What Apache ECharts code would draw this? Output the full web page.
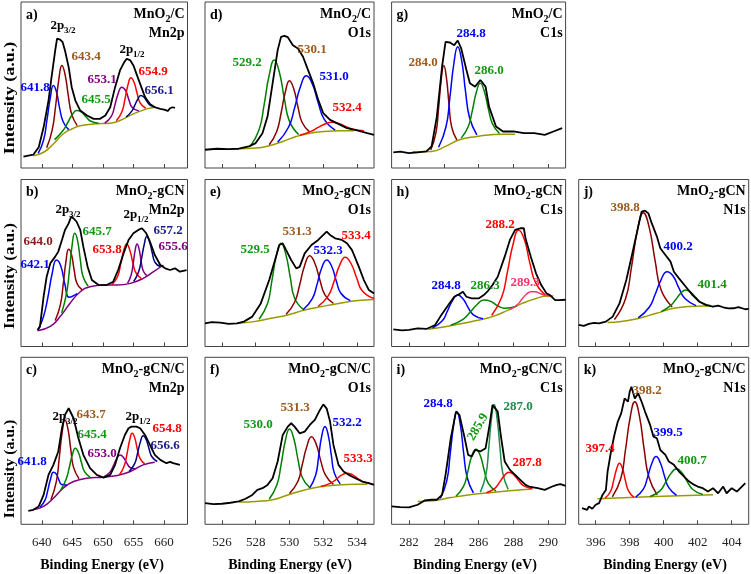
<!DOCTYPE html>
<html><head><meta charset="utf-8">
<script src="https://cdn.jsdelivr.net/npm/echarts@6/dist/echarts.min.js"></script>
<style>html,body{margin:0;padding:0;background:#fff}#c{width:751px;height:574px}</style>
</head><body><div id="c"></div>
<script>
// ================= DATA (x = binding energy eV, y = intensity a.u. 0-100) =================
// tick labels
const ticksMn = [640, 645, 650, 655, 660];
const ticksO = [526, 528, 530, 532, 534];
const ticksC = [282, 284, 286, 288, 290];
const ticksN = [396, 398, 400, 402, 404];

// ---- a) MnO2/C Mn2p
const a_env = [[637.0,6.8],[638.6,8],[639.5,12.5],[640.3,24.5],[641.1,40.6],[641.6,54.7],[642.2,70.8],[642.5,77.9],[643.0,77.3],[643.4,75.9],[643.8,70.8],[644.4,60.8],[644.9,48.7],[645.5,40.6],[646.3,34.6],[647.4,31.6],[648.5,29.6],[649.5,29.6],[650.4,31.6],[651.2,36.6],[652.0,48.7],[652.8,58.8],[653.5,63.8],[653.9,65.8],[654.5,64.8],[655.0,61.8],[655.5,56.7],[656.1,50.7],[656.9,42.7],[657.7,38.6],[658.5,36.6],[659.4,35.6],[660.2,35],[660.6,34.3],[661.0,36],[661.4,36.6],[661.8,36.2]];
const a_base = [[638.6,7.4],[640.3,9.5],[641.9,14.5],[643.5,20.5],[644.9,23.5],[646.5,25.6],[649,26.6],[651.2,27],[652.8,28.6],[655,32.6],[657.2,35.6],[658.5,36.6]];
const a_641_8 = [[639.4,8.8],[640.3,16.9],[640.85,29],[641.4,42.4],[641.9,49.7],[642.4,45.9],[642.95,35.5],[643.5,27.9],[644.4,23.1]];
const a_643_4 = [[640.8,12.2],[641.7,22.8],[642.25,36.9],[642.8,53.6],[643.3,61.8],[643.8,56.6],[644.35,43.4],[644.9,32.3],[645.8,25.5]];
const a_645_5 = [[642.1,17.1],[643.45,22.4],[644.2,27],[644.95,31.9],[645.7,34.6],[646.45,33.8],[647.2,31],[647.95,28.3],[649.3,26.9]];
const a_653_1 = [[650.3,27],[651.4,31.3],[651.95,37.7],[652.5,44.8],[653.1,48.7],[653.7,46.7],[654.25,41.2],[654.8,36.4],[655.9,34.4]];
const a_654_9 = [[652.2,28.4],[653.1,33.7],[653.6,41.2],[654.1,49.9],[654.6,54.3],[655.1,51.7],[655.6,45],[656.1,39.2],[657.0,36]];
const a_656_1 = [[653.8,30.7],[654.7,34.1],[655.2,37.6],[655.7,41.4],[656.2,43.7],[656.7,42.8],[657.2,40.2],[657.7,37.9],[658.6,36.8]];

// ---- d) MnO2/C O1s
const d_env = [[525,11],[525.7,11.6],[526.4,11.4],[527,11.6],[527.6,13],[528,15],[528.4,21],[528.7,31],[529,51],[529.3,71],[529.5,79],[529.7,79.6],[529.9,78.8],[530.2,74],[530.5,72],[530.8,67],[531.1,59],[531.4,51],[531.7,41],[532.0,33],[532.4,29],[532.8,27],[533.4,24],[534.0,22.6],[534.6,21],[535,20]];
const d_base = [[527,11.6],[528,12],[528.8,13.4],[529.6,16],[530.4,19],[531.2,21],[532.0,22],[533,22.4],[533.8,22.4]];
const d_529_2 = [[527.66,12.9],[528.2,23.1],[528.5,38.2],[528.8,56],[529.1,65],[529.4,57.7],[529.7,41.6],[530.0,28.1],[530.54,20.2]];
const d_530_1 = [[528.8,14],[529.25,22.2],[529.5,33],[529.75,45.6],[530.0,52.5],[530.25,47.7],[530.5,36.8],[530.75,27.4],[531.2,21.6]];
const d_531_0 = [[529.3,15.6],[529.95,24.7],[530.3,36.1],[530.65,49.1],[531.0,55.5],[531.35,50.6],[531.7,39.3],[532.05,29.4],[532.7,22.8]];
const d_532_4 = [[530.6,19.7],[531.3,22.2],[531.7,24.5],[532.1,26.5],[532.5,27.5],[532.9,26.9],[533.3,25.1],[533.7,23.5],[534.4,22.4]];

// ---- g) MnO2/C C1s
const g_env = [[281.1,9.4],[281.5,9.9],[282,9],[282.5,9.4],[283,10],[283.3,13],[283.6,31],[283.9,61],[284.1,76],[284.35,75.6],[284.6,74],[284.8,76.8],[285.0,72],[285.3,59],[285.5,51],[285.8,49],[286.1,53],[286.4,49],[286.6,37],[287.0,25],[287.4,22],[288,22],[288.6,21],[289.2,21],[289.8,20],[290.3,22],[290.8,24]];
const g_base = [[282.2,9.8],[283.3,10],[284.1,13],[284.9,17],[285.9,19],[286.7,20],[287.4,20.4],[288.1,20.4]];
const g_284_0 = [[283.25,10.9],[283.55,21.3],[283.7,36],[283.85,53.2],[284.0,61.7],[284.15,54.4],[284.3,38.3],[284.45,24.8],[284.75,16.9]];
const g_284_8 = [[283.7,12.5],[284.13,25],[284.35,42.5],[284.58,63],[284.8,73],[285.03,64.5],[285.25,46],[285.48,30.3],[285.9,20]];
const g_286_0 = [[285.0,18],[285.4,24.8],[285.64,34.6],[285.87,45.6],[286.1,51],[286.33,46.1],[286.56,35.6],[286.8,26.6],[287.2,20.8]];

// ---- b) MnO2-gCN Mn2p
const b_env = [[639.3,9.9],[639.7,11.9],[640.3,29.8],[640.8,41.8],[641.4,49.8],[642.2,53.8],[642.7,56.8],[643.3,63.8],[643.8,69.8],[644.4,73.7],[644.8,77.7],[645.2,76.7],[645.7,74.7],[646.3,69.8],[646.8,59.8],[647.5,47.8],[648.2,39.8],[649.3,36.8],[650.6,36.8],[651.7,38.8],[652.5,45.8],[653.4,55.8],[654.2,63.8],[655.0,67.8],[655.8,69.8],[656.4,70.8],[657.1,67.8],[657.7,62.8],[658.5,54.8],[659.4,48.8],[660.2,46.8],[661.0,45.8],[661.8,46.8],[662.6,44.8],[663.7,45.8]];
const b_base = [[639.3,9.5],[641.4,12],[643,17.9],[644.6,25.8],[646.3,32.8],[647.9,35.8],[650.1,36.8],[652.3,36.8],[654.5,37.8],[656.6,40.8],[658.3,44.8],[659.9,48.8]];
const b_642_1 = [[639.4,10],[640.3,18.1],[641.0,29.5],[641.7,43.7],[642.4,51.8],[643.1,48.4],[643.8,37],[644.5,29.5],[645.8,31.6]];
const b_644_0 = [[642.2,15.6],[643.05,25.1],[643.5,37],[643.95,50.7],[644.4,58.2],[644.85,55.2],[645.3,45.8],[645.75,37.9],[646.6,33.9]];
const b_645_7 = [[643.25,20.1],[644.05,31.6],[644.5,44.8],[644.95,60.1],[645.4,67.8],[645.85,63.6],[646.3,52.1],[646.75,41.9],[647.6,36.1]];
const b_653_8 = [[651.5,37.1],[652.4,41.8],[652.9,49],[653.4,57.3],[653.9,61.4],[654.4,57.8],[654.9,50.3],[655.4,44.2],[656.3,40.7]];
const b_655_6 = [[654.05,37.9],[654.6,42.5],[654.95,49.3],[655.28,57.5],[655.6,61.4],[655.93,58.3],[656.25,51.3],[656.6,45.4],[657.2,42.4]];
const b_657_2 = [[655.05,38.9],[655.85,44.8],[656.3,52],[656.75,60.8],[657.2,65.8],[657.65,62.6],[658.1,55.8],[658.55,50.3],[659.4,47.9]];

// ---- e) MnO2-gCN O1s
const e_env = [[525,13.9],[525.4,14.6],[525.9,14.3],[526.4,13.6],[526.9,13.9],[527.3,14.9],[527.8,17.9],[528.3,25.8],[528.8,39.8],[529.2,53.8],[529.4,60.8],[529.6,61.8],[529.8,57.7],[530.1,51.8],[530.4,46.8],[530.6,47.7],[530.9,55.8],[531.3,60.8],[531.7,63.8],[532.0,66.8],[532.2,68.8],[532.4,66.8],[532.7,64.8],[533.1,63.8],[533.4,61.8],[533.7,57.7],[534.1,47.8],[534.4,39.8],[534.7,33.8],[535,31.8]];
const e_base = [[526.9,13.9],[527.9,14.9],[528.9,16.9],[529.9,18.9],[530.9,21.8],[531.9,23.9],[532.9,25.8],[533.9,27.4],[535,28.2]];
const e_529_5 = [[528.2,16.3],[528.7,25.7],[528.95,38.9],[529.22,54.3],[529.5,61.8],[529.78,55.3],[530.05,41.1],[530.3,29],[530.8,22.3]];
const e_531_3 = [[529.8,19.3],[530.3,26.5],[530.6,36.8],[530.9,48.7],[531.2,54.4],[531.5,49.9],[531.8,39.7],[532.1,30.9],[532.6,25.8]];
const e_532_3 = [[530.8,22],[531.35,28.7],[531.63,37.2],[531.9,46.9],[532.2,51.8],[532.5,47.9],[532.77,39.2],[533.05,31.7],[533.6,27.5]];
const e_533_4 = [[531.7,24.1],[532.3,30.5],[532.63,38.8],[532.97,48.7],[533.3,53.4],[533.64,49.7],[533.98,40.9],[534.3,33.4],[535.0,28.7]];

// ---- h) MnO2-gCN C1s
const h_env = [[281.1,10.3],[281.6,9.6],[282,9.9],[282.5,10.8],[283,10.5],[283.5,12.9],[283.8,17.9],[284.2,23.9],[284.6,29.8],[284.9,31.4],[285.1,32.8],[285.3,29.8],[285.6,28.8],[286,28.8],[286.3,30.8],[286.5,32.8],[286.8,36.8],[287.1,41.8],[287.5,53.8],[287.8,63.8],[288.1,69.8],[288.4,70.8],[288.6,70.8],[288.7,64.5],[289,53.8],[289.3,43.8],[289.6,36.8],[289.9,31.8],[290.1,30.8],[290.4,27.8],[290.6,27.8],[291,28]];
const h_base = [[283.1,10.3],[283.9,11.5],[284.9,13.5],[285.8,15.4],[286.8,17.9],[287.7,21.8],[288.5,25.8],[289.3,28.8],[290,30.2],[290.3,30.2]];
const h_284_8 = [[283.35,11.1],[283.9,15.2],[284.2,21],[284.5,27.5],[284.8,30.8],[285.1,28.6],[285.4,23.3],[285.7,18.9],[286.25,16.6]];
const h_286_3 = [[284.4,12.7],[285.1,16.3],[285.5,20.4],[285.9,25],[286.3,27.8],[286.7,27],[287.1,24.3],[287.5,22.9],[288.2,24.2]];
const h_288_2 = [[286.75,18.6],[287.33,29.6],[287.65,44.3],[287.98,61.2],[288.3,69.8],[288.63,64],[288.95,49.8],[289.28,38.1],[289.85,30.8]];
const h_289_3 = [[287.8,22.1],[288.25,25.3],[288.5,28.5],[288.75,31.3],[289.0,32.8],[289.25,32.8],[289.5,31.9],[289.75,30.9],[290.2,30.2]];

// ---- j) MnO2-gCN N1s
const j_env = [[395,12.9],[395.3,12.3],[395.6,13.5],[395.9,14.2],[396.2,13.9],[396.6,14.9],[397,17.9],[397.4,25.8],[397.8,39.8],[398.2,57.8],[398.5,71.8],[398.7,80.7],[398.9,81.3],[399.1,79.7],[399.3,73.7],[399.6,65.8],[399.8,58.8],[400.1,54.8],[400.4,50.8],[400.6,44.8],[400.9,40.8],[401.3,35.8],[401.7,30.8],[402.1,26.8],[402.5,24.8],[402.9,23.9],[403.2,24.5],[403.5,23.5],[403.8,22.8],[404.1,22.9],[404.4,23.6],[404.8,22.3],[405,22.5]];
const j_base = [[396.7,14.3],[397.5,14.9],[398.3,16.3],[399.1,18.5],[399.9,20.9],[400.6,22.9],[401.4,23.9],[402.2,24.3],[402.6,24.3]];
const j_398_8 = [[397.1,16.1],[397.75,28.4],[398.1,47.2],[398.45,69.4],[398.8,80.1],[399.15,71.2],[399.5,51],[399.85,33.8],[400.5,23.7]];
const j_400_2 = [[398.5,17.2],[399.15,23.5],[399.5,31.3],[399.85,40.1],[400.2,44.8],[400.55,42.2],[400.9,34.9],[401.25,28.7],[401.9,24.5]];
const j_401_4 = [[399.85,20.9],[400.4,24.5],[400.7,28],[401.0,31.9],[401.3,33.8],[401.6,32.4],[401.9,29.1],[402.2,26.4],[402.75,24.4]];

// ---- c) MnO2-gCN/C Mn2p
const c_env = [[637.8,8.1],[638.6,8.7],[639.5,10.7],[640.3,17.6],[641.1,29.6],[641.9,35.6],[642.7,43.6],[643.3,57.5],[643.8,65.5],[644.4,69.5],[644.6,69.9],[645.2,63.5],[646,51.5],[646.8,41.6],[647.9,33.6],[649,29.6],[650.1,28],[651.2,29.6],[652,35.6],[652.8,45.5],[653.6,53.5],[654.2,57.5],[654.7,58.5],[655.5,58.5],[656.1,57.5],[656.9,53.5],[657.7,47.5],[658.5,41.6],[659.4,38.6],[660.4,36.6],[661.0,37.4],[661.5,36.6],[662.6,35.6]];
const c_base = [[638.6,8.7],[640.3,10.7],[641.9,15.6],[643.5,21.6],[645.2,25.6],[647.4,27.6],[650.1,28.2],[652.3,29.2],[654.5,31.6],[656.6,35.6],[658.5,37.2]];
const c_641_8 = [[639.75,10.3],[640.55,14.6],[641.0,20.6],[641.45,27.3],[641.9,31.2],[642.35,30.3],[642.8,26.6],[643.25,23.8],[644.1,23.5]];
const c_643_7 = [[641.5,14.7],[642.4,25.9],[642.85,39.4],[643.33,54.9],[643.8,62.4],[644.28,57.2],[644.75,44.8],[645.2,34.1],[646.1,27.3]];
const c_645_4 = [[643.1,20.4],[644.0,27.1],[644.5,34],[645.0,41.6],[645.5,45.5],[646.0,43],[646.5,36.8],[647.0,31.5],[647.9,28.2]];
const c_653_0 = [[650.2,28.5],[651.15,31.1],[651.7,34.9],[652.25,39.2],[652.8,41.5],[653.35,40.2],[653.9,36.8],[654.45,34],[655.4,33.2]];
const c_654_8 = [[652.75,29.8],[653.5,35],[653.95,42.2],[654.38,50.3],[654.8,54.5],[655.23,51.6],[655.65,44.8],[656.1,39.3],[656.85,36.2]];
const c_656_6 = [[654.3,31.6],[655.2,36.3],[655.65,42.2],[656.13,49.2],[656.6,53],[657.08,50.8],[657.55,45.3],[658.0,40.6],[658.9,37.6]];

// ---- f) MnO2-gCN/C O1s
const f_env = [[525,12.7],[525.5,12.1],[526,12.3],[526.5,12.9],[527,13.7],[527.4,15.3],[527.8,17.6],[528.1,20.6],[528.4,21.6],[528.7,23.6],[529.0,27.6],[529.3,37.6],[529.6,53.5],[529.9,58.5],[530.1,60.5],[530.3,58.5],[530.6,54.5],[530.9,55.5],[531.2,59.5],[531.5,62.5],[531.8,68.5],[532.0,71.8],[532.2,69.3],[532.4,61.5],[532.6,47.5],[532.9,35.6],[533.2,31.6],[533.5,29.6],[533.9,27.6],[534.3,25.6],[534.7,24.6],[535,23.6]];
const f_base = [[527,13.3],[528,13.7],[529,14.7],[529.9,17.6],[530.9,20.6],[531.9,22.6],[532.9,23.6],[533.9,24],[534.6,24]];
const f_530_0 = [[528.8,15.2],[529.25,23.5],[529.5,35.6],[529.75,49.9],[530.0,57.1],[530.25,51.5],[530.5,38.9],[530.75,28.2],[531.2,21.9]];
const f_531_3 = [[530.0,18.5],[530.5,25.8],[530.75,35.5],[531.03,46.8],[531.3,52.5],[531.58,48],[531.85,38],[532.13,29.4],[532.6,23.9]];
const f_532_2 = [[531.2,21.8],[531.55,29.5],[531.72,40.2],[531.9,52.5],[532.1,58.5],[532.3,53],[532.48,41],[532.65,30.8],[533.0,24.2]];
const f_533_3 = [[531.85,22.6],[532.4,24.5],[532.75,26.8],[533.08,29.4],[533.4,30.6],[533.73,29.6],[534.05,27.4],[534.38,25.4],[534.95,24]];

// ---- i) MnO2-gCN/C C1s
const i_env = [[281,10.7],[281.5,10.3],[282,10.1],[282.5,11.7],[282.9,14.3],[283.3,14.7],[283.6,14.7],[283.9,17.6],[284.1,29.6],[284.4,51.5],[284.7,67.5],[284.8,68.5],[284.9,65.5],[285.2,51.5],[285.4,41.6],[285.6,40.6],[285.8,44.5],[286.1,43.6],[286.4,45.5],[286.6,57.5],[286.8,71.5],[286.9,71.8],[287.1,67.5],[287.3,51.5],[287.5,37.6],[287.8,32.6],[288.1,29.6],[288.5,25.6],[288.7,23.6],[288.9,22.6],[289.4,21.6],[289.8,20.6],[290.2,22.5],[290.5,23.6],[290.7,24],[291,23]];
const i_base = [[282.5,13.7],[283.5,14.3],[284.4,16],[285.4,17.6],[286.3,18.6],[287.3,19.6],[288.3,20.6],[289,21]];
const i_284_8 = [[283.8,15.5],[284.17,26],[284.36,41.3],[284.56,58.9],[284.75,67.5],[284.95,59.7],[285.14,42.7],[285.34,28.2],[285.7,18.8]];
const i_285_9 = [[284.7,16.8],[285.14,22.9],[285.37,31.1],[285.6,40.6],[285.85,45],[286.1,41],[286.33,32.1],[286.56,24.5],[287.0,19.8]];
const i_287_0 = [[286.1,19.2],[286.42,29.7],[286.58,45.2],[286.74,63.2],[286.9,71.8],[287.06,63.5],[287.23,45.8],[287.39,30.6],[287.7,20.9]];
const i_287_8 = [[286.45,18.9],[286.93,21.5],[287.2,25.1],[287.48,29.1],[287.75,31.2],[288.03,29.6],[288.3,26.2],[288.58,23.1],[289.1,21.2]];

// ---- k) MnO2-gCN/C N1s
const k_env = [[395.2,9.7],[395.5,8.7],[395.6,10.7],[395.8,9.3],[396,11.7],[396.2,12.7],[396.4,17.6],[396.6,20.6],[396.7,31.6],[396.9,43.6],[397.1,53.5],[397.3,61.5],[397.5,66.4],[397.7,75.4],[397.9,73.4],[398,79.4],[398.1,82.4],[398.3,75.4],[398.5,78.4],[398.7,73.4],[398.9,67.5],[399.2,59.5],[399.4,52.5],[399.6,51.5],[399.8,44.5],[400.1,41.6],[400.3,37.6],[400.6,35.6],[400.9,31.6],[401.2,28.6],[401.5,25.6],[401.8,23.6],[402.0,22.6],[402.3,21.6],[402.6,19.6],[402.9,21.6],[403.2,18.6],[403.5,22.6],[403.7,18.6],[404,21.6],[404.3,19.6],[404.6,22.6],[404.8,24.6]];
const k_base = [[396.1,15.3],[399.5,16.6],[402.9,17.7]];
const k_397_4 = [[396.55,15.7],[396.88,19.8],[397.05,25.9],[397.23,33.1],[397.4,36.5],[397.58,33.2],[397.75,26.1],[397.93,20],[398.25,16.1]];
const k_398_2 = [[396.98,16.4],[397.48,27.6],[397.75,44.4],[398.03,64.1],[398.3,73.4],[398.58,64.3],[398.85,44.8],[399.13,28.2],[399.62,17.6]];
const k_399_5 = [[398.35,16.3],[398.8,21],[399.05,28.1],[399.3,36.4],[399.55,40.6],[399.8,36.9],[400.05,28.8],[400.3,21.9],[400.75,17.4]];
const k_400_7 = [[399.2,16.6],[399.78,20],[400.1,24.9],[400.43,30.5],[400.75,33.2],[401.08,30.7],[401.4,25.3],[401.73,20.7],[402.3,17.8]];

// ================= STYLE / LAYOUT =================
const F = '"Liberation Serif","Times New Roman",serif';
const BLACK = '#000', BLUE = '#0000ff', MAROON = '#8b0000', GREEN = '#008000', RED = '#ff0000',
      PURPLE = '#800080', NAVY = '#000080', OLIVE = '#9a9a00', PINK = '#ff3366', TEAL = '#1e8c4a',
      BROWN = '#9c5a1c', DRED = '#8b1a1a', LGREEN = '#119911', LNAVY = '#1a1a8c';

const cols = [
  {left: 21, width: 166.5, min: 636.6, max: 663.85, ticks: ticksMn, titleX: 102},
  {left: 205, width: 169, min: 525, max: 535, ticks: ticksO, titleX: 290},
  {left: 391.6, width: 174, min: 281, max: 291, ticks: ticksC, titleX: 475},
  {left: 578.7, width: 170, min: 395, max: 405, ticks: ticksN, titleX: 665}
];
const rows = [{top: 2, height: 166, ylab: 98, ystretch: 1.2}, {top: 179.5, height: 167, ylab: 276, ystretch: 1.13}, {top: 357.3, height: 167, ylab: 469, ystretch: 1.05}];

const panels = [
  {col:0,row:0,tag:'a)',t1:'MnO_{2}/C',t2:'Mn2p',
   curves:[[a_base,OLIVE],[a_641_8,BLUE],[a_643_4,MAROON],[a_645_5,GREEN],[a_653_1,PURPLE],[a_654_9,RED],[a_656_1,NAVY],[a_env,BLACK]],
   labels:[['2p_{3/2}',BLACK,63,26],['643.4',BROWN,86,57],['641.8',BLUE,35,88],['645.5',LGREEN,96,100],['653.1',PURPLE,102,80],['2p_{1/2}',BLACK,132,50],['654.9',RED,153,72],['656.1',LNAVY,159,91]]},
  {col:1,row:0,tag:'d)',t1:'MnO_{2}/C',t2:'O1s',
   curves:[[d_base,OLIVE],[d_529_2,GREEN],[d_530_1,MAROON],[d_531_0,BLUE],[d_532_4,RED],[d_env,BLACK]],
   labels:[['529.2',LGREEN,247,63],['530.1',BROWN,312,50],['531.0',BLUE,334,77],['532.4',RED,347,108]]},
  {col:2,row:0,tag:'g)',t1:'MnO_{2}/C',t2:'C1s',
   curves:[[g_base,OLIVE],[g_284_0,MAROON],[g_284_8,BLUE],[g_286_0,GREEN],[g_env,BLACK]],
   labels:[['284.0',BROWN,423,63],['284.8',BLUE,471,34],['286.0',LGREEN,489,71]]},
  {col:0,row:1,tag:'b)',t1:'MnO_{2}-gCN',t2:'Mn2p',
   curves:[[b_base,PURPLE],[b_642_1,BLUE],[b_644_0,MAROON],[b_645_7,GREEN],[b_653_8,RED],[b_655_6,PURPLE],[b_657_2,NAVY],[b_env,BLACK]],
   labels:[['2p_{3/2}',BLACK,68,210],['644.0',DRED,38,242],['645.7',LGREEN,97,232],['642.1',BLUE,35,265],['2p_{1/2}',BLACK,136,215],['657.2',LNAVY,168,231],['653.8',RED,107,250],['655.6',PURPLE,173,247]]},
  {col:1,row:1,tag:'e)',t1:'MnO_{2}-gCN',t2:'O1s',
   curves:[[e_base,OLIVE],[e_529_5,GREEN],[e_531_3,MAROON],[e_532_3,BLUE],[e_533_4,RED],[e_env,BLACK]],
   labels:[['529.5',LGREEN,255,250],['531.3',BROWN,297,232],['532.3',BLUE,328,251],['533.4',RED,356,236]]},
  {col:2,row:1,tag:'h)',t1:'MnO_{2}-gCN',t2:'C1s',
   curves:[[h_base,OLIVE],[h_284_8,BLUE],[h_286_3,GREEN],[h_288_2,RED],[h_289_3,PINK],[h_env,BLACK]],
   labels:[['288.2',RED,500,225],['284.8',BLUE,446,286],['286.3',LGREEN,485,286],['289.3',PINK,525,283]]},
  {col:3,row:1,tag:'j)',t1:'MnO_{2}-gCN',t2:'N1s',
   curves:[[j_base,OLIVE],[j_398_8,MAROON],[j_400_2,BLUE],[j_401_4,GREEN],[j_env,BLACK]],
   labels:[['398.8',BROWN,625,208],['400.2',BLUE,678,247],['401.4',LGREEN,712,285]]},
  {col:0,row:2,tag:'c)',t1:'MnO_{2}-gCN/C',t2:'Mn2p',
   curves:[[c_base,PURPLE],[c_641_8,BLUE],[c_643_7,MAROON],[c_645_4,GREEN],[c_653_0,PURPLE],[c_654_8,RED],[c_656_6,NAVY],[c_env,BLACK]],
   labels:[['2p_{3/2}',BLACK,65,417],['643.7',BROWN,91,415],['645.4',LGREEN,92,435],['641.8',BLUE,32,462],['653.0',PURPLE,102,454],['2p_{1/2}',BLACK,138,417],['654.8',RED,167,429],['656.6',LNAVY,165,446]]},
  {col:1,row:2,tag:'f)',t1:'MnO_{2}-gCN/C',t2:'O1s',
   curves:[[f_base,OLIVE],[f_530_0,GREEN],[f_531_3,MAROON],[f_532_2,BLUE],[f_533_3,RED],[f_env,BLACK]],
   labels:[['530.0',LGREEN,258,425],['531.3',BROWN,295,408],['532.2',BLUE,347,423],['533.3',RED,358,459]]},
  {col:2,row:2,tag:'i)',t1:'MnO_{2}-gCN/C',t2:'C1s',
   curves:[[i_base,OLIVE],[i_284_8,BLUE],[i_285_9,GREEN],[i_287_0,TEAL],[i_287_8,RED],[i_env,BLACK]],
   labels:[['284.8',BLUE,438,404],['285.9',LGREEN,478,427,60],['287.0',TEAL,518,407],['287.8',RED,527,463]]},
  {col:3,row:2,tag:'k)',t1:'MnO_{2}-gCN/C',t2:'N1s',
   curves:[[k_base,OLIVE],[k_397_4,RED],[k_398_2,MAROON],[k_399_5,BLUE],[k_400_7,GREEN],[k_env,BLACK]],
   labels:[['398.2',BROWN,647,391],['397.4',RED,600,449],['399.5',BLUE,668,433],['400.7',LGREEN,692,461]]}
];

// ================= BUILD =================
function toRich(t) {
  const re = /_\{([^}]*)\}/g; let out = '', last = 0, m;
  while ((m = re.exec(t))) {
    if (m.index > last) out += '{b|' + t.slice(last, m.index) + '}';
    out += '{s|' + m[1] + '}'; last = re.lastIndex;
  }
  if (last < t.length) out += '{b|' + t.slice(last) + '}';
  return out;
}
function textEl(t, color, x, y, size, align, rotDeg, stretch) {
  const el = {type: 'text', x: x, y: y, z: 100, rotation: (rotDeg || 0) * Math.PI / 180,
    scaleX: stretch || 1, scaleY: 1,
    style: {fill: color, font: 'bold ' + size + 'px ' + F, textAlign: align || 'center', textVerticalAlign: 'middle'}};
  if (t.indexOf('_{') >= 0) {
    el.style.text = toRich(t);
    el.style.rich = {
      b: {fontSize: size, fontWeight: 'bold', fontFamily: F, fill: color, lineHeight: size + 6, verticalAlign: 'middle'},
      s: {fontSize: Math.round(size * 0.68), fontWeight: 'bold', fontFamily: F, fill: color, verticalAlign: 'bottom'}
    };
  } else {
    el.style.text = t;
  }
  return el;
}

const grids = [], xAxes = [], yAxes = [], series = [], graphics = [];
panels.forEach((p, i) => {
  const c = cols[p.col], r = rows[p.row];
  grids.push({left: c.left, top: r.top, width: c.width, height: r.height, show: true,
    borderColor: '#444', borderWidth: 1, backgroundColor: 'transparent', containLabel: false});
  xAxes.push({type: 'value', gridIndex: i, min: c.min, max: c.max,
    axisLine: {show: false}, splitLine: {show: false},
    axisTick: {show: true, inside: true, length: 4, customValues: c.ticks, lineStyle: {color: '#444'}},
    axisLabel: {show: p.row === 2, customValues: c.ticks, margin: 12, fontFamily: F, fontSize: 13, color: '#222'}});
  yAxes.push({type: 'value', gridIndex: i, min: 0, max: 100, axisLine: {show: false},
    axisTick: {show: false}, axisLabel: {show: false}, splitLine: {show: false}});
  p.curves.forEach((cv, k) => {
    const isEnv = cv[1] === BLACK;
    series.push({type: 'line', xAxisIndex: i, yAxisIndex: i, data: cv[0], symbol: 'none',
      smooth: isEnv ? false : 0.5, animation: false, silent: true, z: isEnv ? 5 : 3,
      lineStyle: {color: cv[1], width: isEnv ? 1.8 : 1.5}});
  });
  // panel tag and titles
  graphics.push(textEl(p.tag, BLACK, c.left + 5, r.top + 13, 14, 'left'));
  graphics.push(textEl(p.t1, BLACK, c.left + c.width - 3, r.top + 12, 14, 'right'));
  graphics.push(textEl(p.t2, BLACK, c.left + c.width - 3, r.top + 31, 14, 'right'));
  p.labels.forEach(l => graphics.push(textEl(l[0], l[1], l[2], l[3], 13, 'center', l[4] || 0)));
});
rows.forEach(r => graphics.push(textEl('Intensity (a.u.)', BLACK, 10, r.ylab, 15, 'center', 90, r.ystretch)));
cols.forEach(c => graphics.push(textEl('Binding Energy (eV)', BLACK, c.titleX, 565, 14, 'center')));

const chart = echarts.init(document.getElementById('c'), null, {renderer: 'canvas'});
chart.setOption({animation: false, grid: grids, xAxis: xAxes, yAxis: yAxes, series: series, graphic: {elements: graphics}});
</script></body></html>
